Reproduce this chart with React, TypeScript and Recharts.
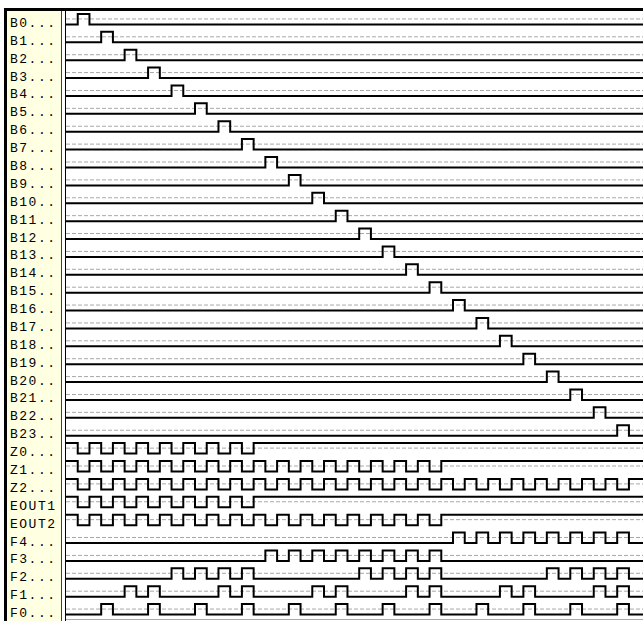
import React from 'react';
import { LineChart, Line, XAxis, YAxis, ReferenceLine } from 'recharts';

// slot where each B line pulses high (one slot wide)
const B_PULSE_AT = [
  1, 3, 5, 7, 9, 11, 13, 15, 17, 19, 21, 23, 25, 27, 29, 31, 33, 35, 37, 39, 41,
  43, 45, 47,
];

// clock-like rows, one char per time slot (spaces only for readability)
const CLOCK_NAMES = ['Z0', 'Z1', 'Z2', 'EOUT1', 'EOUT2'];
const CLOCK_WAVES = [
  '10101010 10101010 11111111 11111111 11111111 11111111 1',
  '10101010 10101010 10101010 10101010 11111111 11111111 1',
  '10101010 10101010 10101010 10101010 10101010 10101010 1',
  '10101010 10101010 11111111 11111111 11111111 11111111 1',
  '10101010 10101010 10101010 10101010 11111111 11111111 1',
];

const COUNT_NAMES = ['F4', 'F3', 'F2', 'F1', 'F0'];
const COUNT_WAVES = [
  '00000000 00000000 00000000 00000000 01010101 01010101 0',
  '00000000 00000000 01010101 01010101 00000000 00000000 0',
  '00000000 01010101 00000000 01010101 00000000 01010101 0',
  '00000101 00000101 00000101 00000101 00000101 00000101 0',
  '00010001 00010001 00010001 00010001 00010001 00010001 0',
];

const SLOTS = 49;
const VIEW_END = 49.2;

const ROW_PX = 17.88;
const HIGH_OFF = 5 / ROW_PX;
const LOW_OFF = 5.5 / ROW_PX;

const names = [
  ...B_PULSE_AT.map((_, i) => `B${i}`),
  ...CLOCK_NAMES,
  ...COUNT_NAMES,
];

const levels: number[][] = [
  ...B_PULSE_AT.map((p) =>
    Array.from({ length: SLOTS }, (_, t) => (t === p ? 1 : 0))
  ),
  ...[...CLOCK_WAVES, ...COUNT_WAVES].map((w) =>
    w.replace(/\s/g, '').split('').map(Number)
  ),
];

const times = [...Array.from({ length: SLOTS }, (_, t) => t), VIEW_END];

const data = times.map((t, k) => {
  const row: Record<string, number> = { t };
  levels.forEach((lv, i) => {
    const v = lv[Math.min(k, SLOTS - 1)];
    row[`s${i}`] = i + 0.5 + (v ? -HIGH_OFF : LOW_OFF);
  });
  return row;
});

const LabelTick = (props: any) => {
  const { y, payload } = props;
  const idx = Math.floor(payload.value);
  const name = names[idx] ?? '';
  return (
    <text
      x={10}
      y={y + 8}
      fontFamily="Liberation Mono"
      fontSize={13}
      letterSpacing={1.5}
      fill="#000"
    >
      {name.padEnd(5, '.')}
    </text>
  );
};

const box = (
  left: number,
  top: number,
  width: number,
  height: number,
  background: string
): React.CSSProperties => ({
  position: 'absolute',
  left,
  top,
  width,
  height,
  background,
});

export default function App() {
  return (
    <div
      style={{
        position: 'absolute',
        left: 0,
        top: 0,
        width: 643,
        height: 621,
        background: '#fff',
        overflow: 'hidden',
      }}
    >
      <div style={box(7, 11, 54, 610, '#ffffe1')} />
      <div style={box(4, 8, 639, 3, '#000')} />
      <div style={box(4, 8, 3, 613, '#000')} />
      <div style={box(61, 11, 1, 610, '#404040')} />
      <div style={box(65, 11, 1, 610, '#000')} />
      <div style={box(66, 619, 577, 1, '#a8a8a8')} />
      <div style={{ position: 'absolute', left: 0, top: 0 }}>
        <LineChart
          width={643}
          height={621}
          data={data}
          margin={{ top: 10, right: 0, bottom: 3, left: 0 }}
        >
          <XAxis
            dataKey="t"
            type="number"
            domain={[0, VIEW_END]}
            allowDataOverflow
            hide
          />
          <YAxis
            type="number"
            domain={[0, names.length]}
            reversed
            allowDataOverflow
            ticks={names.map((_, i) => i + 0.5)}
            interval={0}
            width={66}
            axisLine={false}
            tickLine={false}
            tick={<LabelTick />}
          />
          {names.map((n, i) => (
            <ReferenceLine
              key={`mid-${n}`}
              y={i + 0.5}
              stroke="#a8a8a8"
              strokeDasharray="4 2"
            />
          ))}
          {names.map((n, i) => (
            <Line
              key={n}
              dataKey={`s${i}`}
              type="stepAfter"
              stroke="#000"
              strokeWidth={2}
              dot={false}
              activeDot={false}
              isAnimationActive={false}
            />
          ))}
        </LineChart>
      </div>
    </div>
  );
}
